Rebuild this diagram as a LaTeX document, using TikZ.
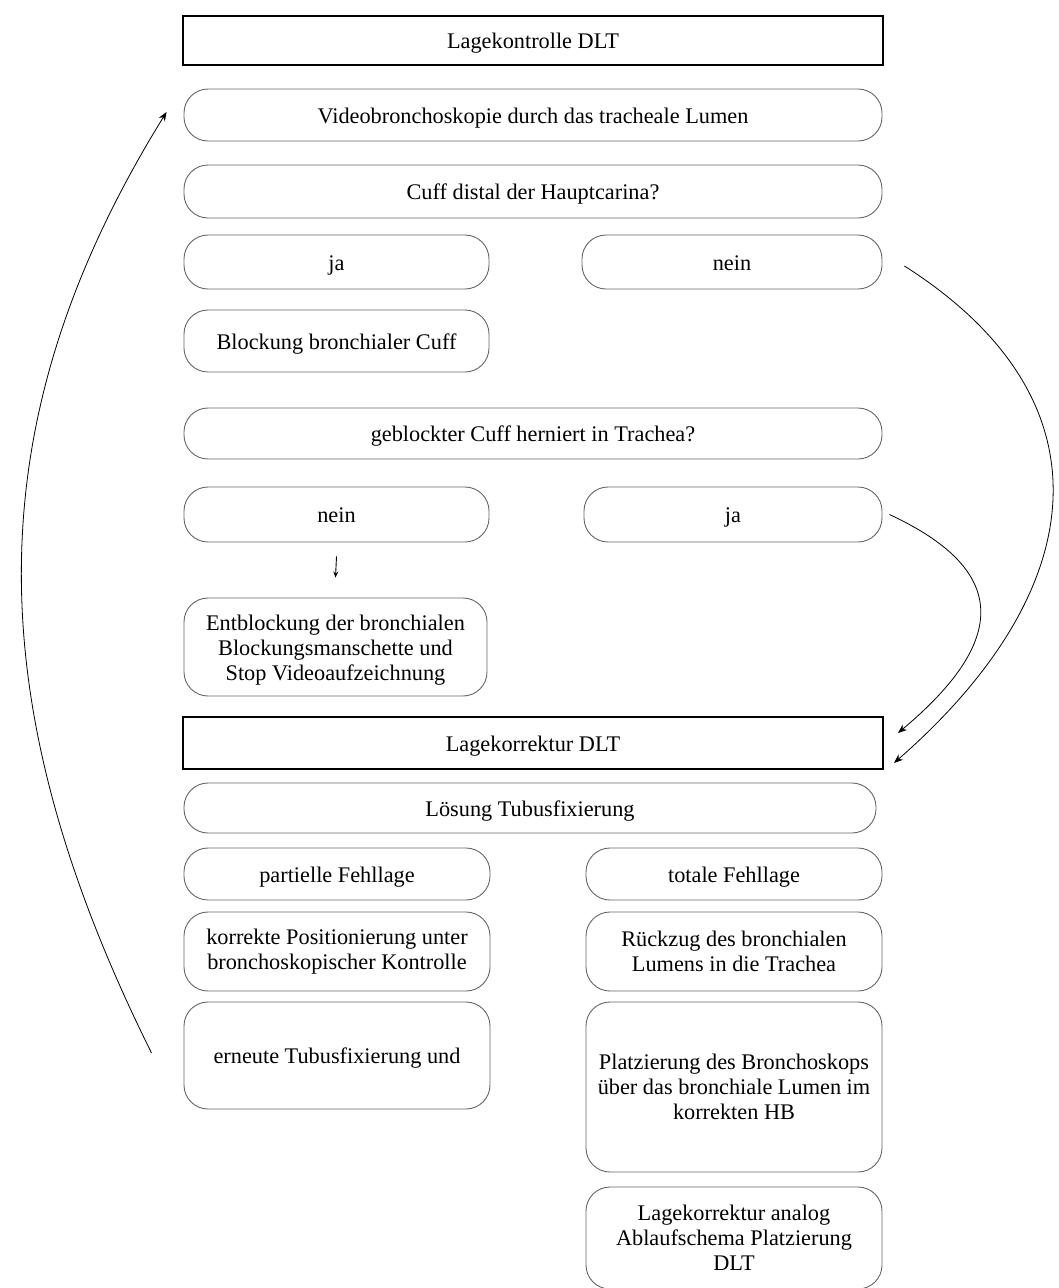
\documentclass[tikz,border=0pt]{standalone}
\usepackage{fontspec}
\setmainfont{Liberation Serif}
\usetikzlibrary{arrows.meta}
\begin{document}
\begin{tikzpicture}[x=1pt,y=-1pt,
  box/.style={draw=black!60, line width=0.9pt, rounded corners=24pt, align=center, inner sep=0pt,
    font=\fontsize{22.3}{25}\selectfont},
  one/.style={text height=18.5pt, text depth=2.5pt},
  title/.style={draw=black, line width=2pt, align=center, inner sep=0pt,
    font=\fontsize{22.3}{25}\selectfont, text height=18.5pt, text depth=2.5pt},
  arr/.style={-{Stealth[length=9pt,width=7pt]}, line width=0.8pt}]
\useasboundingbox (0,0) rectangle (1058,1288);
\node[title, minimum width=700pt, minimum height=49pt] (t1) at (533,40.5) {Lagekontrolle DLT};
\node[box, one, minimum width=698pt, minimum height=52pt] (v) at (533,115) {Videobronchoskopie durch das tracheale Lumen};
\node[box, one, minimum width=698pt, minimum height=53pt] (c) at (533,191.5) {Cuff distal der Hauptcarina?};
\node[box, one, minimum width=305pt, minimum height=54pt] (ja1) at (336.5,262) {ja};
\node[box, one, minimum width=300pt, minimum height=54pt] (nein1) at (732,262) {nein};
\node[box, one, minimum width=305pt, minimum height=62pt] (bl) at (336.5,341) {Blockung bronchialer Cuff};
\node[box, one, minimum width=698pt, minimum height=51pt] (gc) at (533,433.5) {geblockter Cuff herniert in Trachea?};
\node[box, one, minimum width=305pt, minimum height=55pt] (nein2) at (336.5,514.5) {nein};
\node[box, one, minimum width=298pt, minimum height=55pt] (ja2) at (733,514.5) {ja};
\node[box, minimum width=303pt, minimum height=98pt] (eb) at (335.5,647) {\rule{0pt}{21.5pt}Entblockung der bronchialen\\Blockungsmanschette und\\Stop Videoaufzeichnung};
\node[title, minimum width=700pt, minimum height=52pt] (t2) at (533,743) {Lagekorrektur DLT};
\node[box, one, minimum width=692pt, minimum height=50pt] (lo) at (530,808) {Lösung Tubusfixierung};
\node[box, one, minimum width=306pt, minimum height=52pt] (pf) at (337,874) {partielle Fehllage};
\node[box, one, minimum width=296pt, minimum height=52pt] (tf) at (734,874) {totale Fehllage};
\node[box, minimum width=306pt, minimum height=79pt] (kp) at (337,951.5) {korrekte Positionierung unter\\bronchoskopischer Kontrolle};
\node[box, minimum width=296pt, minimum height=79pt] (rz) at (734,951.5) {Rückzug des bronchialen\\Lumens in die Trachea};
\node[box, one, minimum width=306pt, minimum height=107pt] (et) at (337,1055.5) {erneute Tubusfixierung und};
\node[box, minimum width=296pt, minimum height=170pt] (pb) at (734,1087) {Platzierung des Bronchoskops\\über das bronchiale Lumen im\\korrekten HB};
\node[box, minimum width=296pt, minimum height=102pt] (la) at (734,1238) {Lagekorrektur analog\\Ablaufschema Platzierung\\DLT};
% connectors
\coordinate (lbStart) at ([xshift=-32pt,yshift=2.5pt]et.west);
\coordinate (lbEnd) at ([xshift=-17pt,yshift=3pt]v.west);
\draw[arr] (lbStart) .. controls (-24,700) and (-24,420) .. (lbEnd);
\coordinate (r1Start) at ([xshift=22pt,yshift=-4pt]nein1.east);
\coordinate (r1End) at ([xshift=10pt,yshift=-20pt]t2.east);
\draw[arr] (r1Start) .. controls (1115,400) and (1092,590) .. (r1End);
\coordinate (r2Start) at ([xshift=7pt]ja2.east);
\coordinate (r2End) at ([xshift=14pt,yshift=10pt]t2.east);
\draw[arr] (r2Start) .. controls (1009,570) and (1009,640) .. (r2End);
\draw[line width=0.9pt, -{Stealth[length=6pt,width=5pt]}] ([yshift=-14pt]nein2.south) -- ([yshift=20pt]eb.north);
\end{tikzpicture}
\end{document}
